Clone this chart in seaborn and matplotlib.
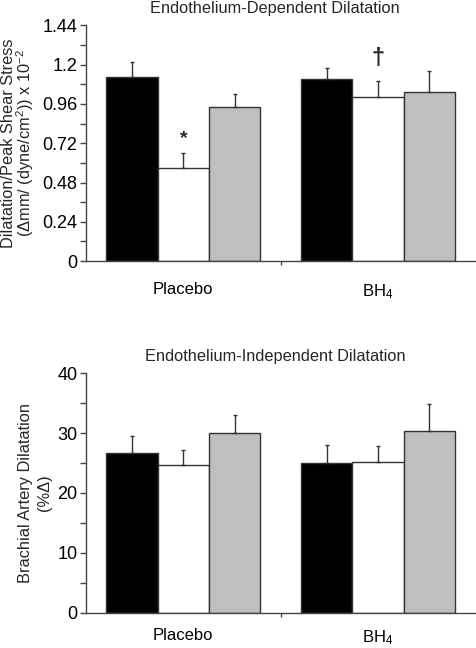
import matplotlib
matplotlib.use("Agg")
import matplotlib.pyplot as plt
import seaborn as sns
import pandas as pd
import numpy as np
from matplotlib.ticker import MultipleLocator, FixedLocator

sns.set_theme(style="white")
plt.rcParams['font.family'] = ['Liberation Sans', 'DejaVu Sans']
plt.rcParams['mathtext.fontset'] = 'custom'
plt.rcParams['mathtext.rm'] = 'Liberation Sans'
plt.rcParams['mathtext.it'] = 'Liberation Sans:italic'
plt.rcParams['mathtext.bf'] = 'Liberation Sans:bold'

# ---- data ----
categories = ["Placebo", "BH$_4$"]
conditions = ["Condition 1", "Condition 2", "Condition 3"]
dep_values = [[1.125, 0.571, 0.942], [1.112, 1.000, 1.033]]
dep_errors = [[0.089, 0.092, 0.081], [0.070, 0.102, 0.130]]
ind_values = [[26.7, 24.6, 30.1], [25.0, 25.1, 30.3]]
ind_errors = [[2.8, 2.5, 2.9], [3.0, 2.8, 4.5]]
colors = ["#000000", "#ffffff", "#bfbfbf"]

dep_yticks = [0, 0.24, 0.48, 0.72, 0.96, 1.2, 1.44]
dep_yticklabels = ["0", "0.24", "0.48", "0.72", "0.96", "1.2", "1.44"]
ind_yticks = [0, 10, 20, 30, 40]

def long_df(values, errors):
    rows = []
    for ci, cat in enumerate(categories):
        for hi, cond in enumerate(conditions):
            rows.append(dict(cat=cat, cond=cond, val=values[ci][hi], err=errors[ci][hi]))
    return pd.DataFrame(rows)

fig = plt.figure(figsize=(4.77, 6.48), dpi=100)
ax1 = fig.add_axes([0.180, 0.597, 0.817, 0.364])
ax2 = fig.add_axes([0.180, 0.0545, 0.817, 0.3695])

spine_col = "#444444"
edge_col = "#333333"

def draw(ax, values, errors, ylim, yticks, yticklabels, minor, title, xpad):
    df = long_df(values, errors)
    sns.barplot(data=df, x="cat", y="val", hue="cond", order=categories,
                hue_order=conditions, palette=colors, width=0.79, gap=0,
                edgecolor=edge_col, linewidth=1.0, errorbar=None, legend=False, ax=ax)
    bars = [p for p in ax.patches]
    k = 0
    for hi, cond in enumerate(conditions):
        for ci, cat in enumerate(categories):
            p = bars[k]; k += 1
            xc = p.get_x() + p.get_width() / 2
            top = p.get_height()
            ax.errorbar([xc], [top], yerr=[[0], [errors[ci][hi]]], fmt="none",
                        ecolor=edge_col, elinewidth=1.0, capsize=1.6, capthick=1.0, zorder=1)
    ax.set_xlim(-0.5, 1.5)
    ax.set_ylim(*ylim)
    ax.set_yticks(yticks)
    ax.set_yticklabels(yticklabels)
    ax.yaxis.set_minor_locator(MultipleLocator(minor))
    ax.xaxis.set_minor_locator(FixedLocator([0.5]))
    ax.tick_params(axis="y", which="both", direction="out", length=4, width=1,
                   color=spine_col, left=True, labelsize=13, pad=2, labelcolor="black")
    ax.tick_params(axis="x", which="major", length=0, pad=xpad, labelsize=12, labelcolor="black")
    ax.tick_params(axis="x", which="minor", direction="out", length=3, width=1,
                   color=spine_col, bottom=True)
    ax.set_xlabel("")
    ax.set_title(title, fontsize=11.8, pad=8.5, x=0.485)
    for s in ["top", "right"]:
        ax.spines[s].set_visible(False)
    for s in ["left", "bottom"]:
        ax.spines[s].set_color(spine_col)
        ax.spines[s].set_linewidth(1.0)
    ax.set_facecolor("white")

draw(ax1, dep_values, dep_errors, (0, 1.44), dep_yticks, dep_yticklabels, 0.12,
     "Endothelium-Dependent Dilatation", 15)
draw(ax2, ind_values, ind_errors, (0, 40), ind_yticks, [str(t) for t in ind_yticks], 5,
     "Endothelium-Independent Dilatation", 11)

# top y label: two lines drawn separately to keep tight line spacing
ax1.set_ylabel("Dilatation/Peak Shear Stress", fontsize=11.8)
ax1.yaxis.set_label_coords(-0.180, 0.5)
ax1.text(-0.155, 0.5, "(Δmm/ (dyne/cm$^2$)) x 10$^{-2}$", transform=ax1.transAxes,
         rotation=90, ha="center", va="center", fontsize=11.8)

ax2.set_ylabel("Brachial Artery Dilatation\n(%Δ)", fontsize=11.8, linespacing=1.3)
ax2.yaxis.set_label_coords(-0.087, 0.5)

# significance markers
ax1.text(0.0, 0.75, "*", ha="center", va="center", fontsize=14, fontweight="bold")
ax1.text(1.0, 1.24, "†", ha="center", va="center", fontsize=17, fontweight="bold")

fig.savefig("out.png", dpi=100, facecolor="white")
